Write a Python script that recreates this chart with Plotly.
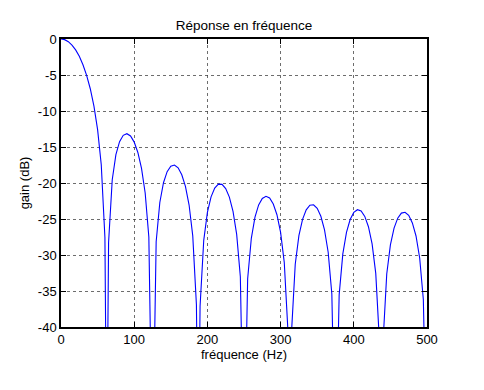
import plotly.graph_objects as go

# Frequencies (Hz) and gains (dB)
freq = [0, 5, 10, 15, 20, 25, 30, 35, 40, 45, 50, 55, 60, 62.5, 65, 70, 75, 80, 85, 90,
        95, 100, 105, 110, 115, 120, 125, 130, 135, 140, 145, 150, 155, 160, 165, 170,
        175, 180, 185, 187.5, 190, 195, 200, 205, 210, 215, 220, 225, 230, 235, 240,
        245, 250, 255, 260, 265, 270, 275, 280, 285, 290, 295, 300, 305, 310, 312.5,
        315, 320, 325, 330, 335, 340, 345, 350, 355, 360, 365, 370, 375, 380, 385, 390,
        395, 400, 405, 410, 415, 420, 425, 430, 435, 437.5, 440, 445, 450, 455, 460,
        465, 470, 475, 480, 485, 490, 495, 500]
gain = [0.0, -0.09, -0.37, -0.84, -1.51, -2.41, -3.57, -5.04, -6.91, -9.33, -12.58,
        -17.47, -27.58, -60, -28.26, -19.54, -16.06, -14.26, -13.38, -13.15,
        -13.47, -14.32, -15.76, -17.97, -21.39, -27.49, -60, -28.15, -22.71, -19.96,
        -18.42, -17.66, -17.50, -17.89, -18.85, -20.48,
        -23.06, -27.34, -36.92, -60, -37.12, -27.96, -24.08, -21.92, -20.70, -20.16,
        -20.19, -20.77, -21.96, -23.94, -27.13,
        -33.02, -60, -33.29, -27.68, -24.75, -23.05, -22.14, -21.84, -22.08, -22.91,
        -24.41, -26.86, -31.02, -40.47, -60,
        -40.56, -31.29, -27.31, -25.04, -23.73, -23.09, -23.03, -23.52, -24.62, -26.51,
        -29.62, -35.42, -60, -35.54, -29.85, -26.85,
        -25.07, -24.08, -23.71, -23.89, -24.64, -26.07, -28.45, -32.55, -41.94, -60,
        -41.97, -32.63, -28.59, -26.26, -24.88,
        -24.18, -24.06, -24.49, -25.54, -27.36, -30.42, -36.17, -60]

x_ticks = [0, 100, 200, 300, 400, 500]
y_ticks = [0, -5, -10, -15, -20, -25, -30, -35, -40]

fig = go.Figure()
fig.add_trace(go.Scatter(x=freq, y=gain, mode="lines",
                         line=dict(color="#0000FF", width=1.1),
                         showlegend=False, hoverinfo="skip"))

FONT = "Liberation Sans, Arial, sans-serif"
axis_common = dict(
    showline=True, linecolor="black", linewidth=1.5, mirror="allticks",
    ticks="inside", ticklen=5, tickwidth=1, tickcolor="black",
    showgrid=True, gridcolor="rgba(60,60,60,0.75)", gridwidth=1, griddash="dot",
    zeroline=False, tickfont=dict(family=FONT, size=13, color="black"),
)

# The page has an 8px body margin, so the figure is sized to fit inside it.
fig.update_layout(
    width=476, height=382,
    margin=dict(l=53, r=57, t=31, b=63),
    paper_bgcolor="white", plot_bgcolor="white",
    font=dict(family=FONT, size=13, color="black"),
    title=dict(text="Réponse en fréquence", x=0.5, xref="paper", xanchor="center",
               y=1, yref="paper", yanchor="bottom", pad=dict(b=9),
               font=dict(family=FONT, size=13.5, color="black")),
    xaxis=dict(range=[0, 500], tickvals=x_ticks, ticktext=[str(v) for v in x_ticks],
               title=dict(text="fréquence (Hz)", standoff=3,
                          font=dict(family=FONT, size=13)),
               **axis_common),
    yaxis=dict(range=[-40, 0], tickvals=y_ticks, ticktext=[str(v) for v in y_ticks],
               title=dict(text="gain (dB)", standoff=5,
                          font=dict(family=FONT, size=13)),
               **axis_common),
)

fig.write_html("out.html")
